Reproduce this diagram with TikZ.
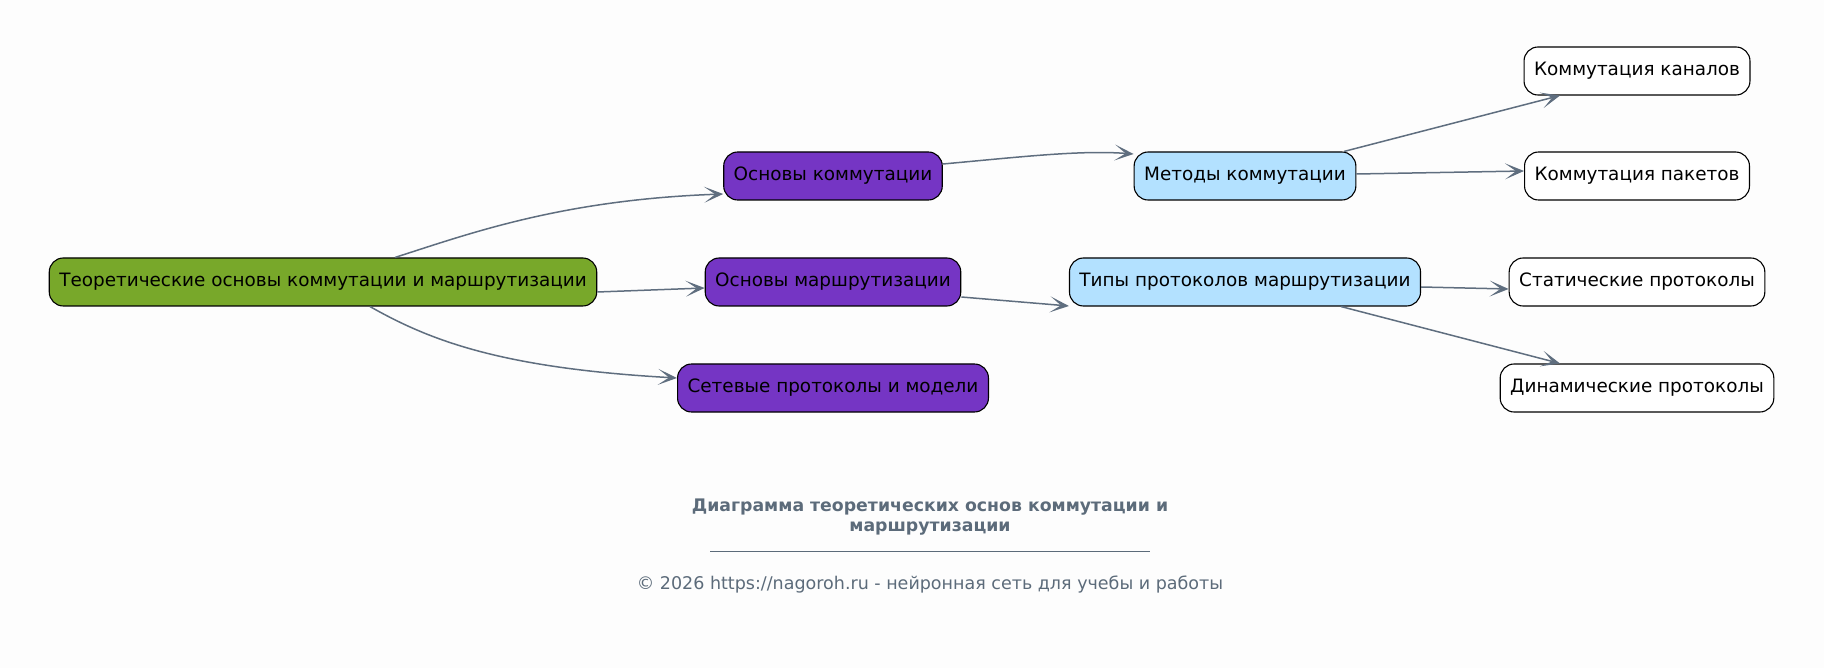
\documentclass[tikz,border=0pt]{standalone}
\usepackage{fontspec}
\setmainfont{DejaVu Sans}
\usetikzlibrary{arrows.meta,calc}
\definecolor{bg}{HTML}{FDFDFD}
\definecolor{rootc}{HTML}{78A82A}
\definecolor{midc}{HTML}{7535C4}
\definecolor{bluec}{HTML}{B3E1FF}
\definecolor{edgec}{HTML}{5F6E7F}
\definecolor{titlec}{HTML}{5C6B7A}
\tikzset{
  box/.style={draw=black, line width=1.1pt, rounded corners=14pt, minimum height=48pt, inner xsep=10pt, inner ysep=0pt, font=\fontsize{18.4}{22}\selectfont, text=black},
  rootbox/.style={box, fill=rootc},
  midbox/.style={box, fill=midc},
  bluebox/.style={box, fill=bluec},
  leafbox/.style={box, fill=white},
  conn/.style={draw=edgec, line width=1.5pt, -{Stealth[length=19pt,width=16pt,inset=11pt,line width=0pt]}},
}
\begin{document}
\begin{tikzpicture}[x=1pt,y=-1pt]
\fill[bg] (0,0) rectangle (1824,668);
\useasboundingbox (0,0) rectangle (1824,668);

\node[rootbox] (root) at (323,282) {Теоретические основы коммутации и маршрутизации};
\node[midbox] (osk) at (833,176) {Основы коммутации};
\node[midbox] (osm) at (833,282) {Основы маршрутизации};
\node[midbox] (snet) at (833,388) {Сетевые протоколы и модели};
\node[bluebox] (met) at (1245,176) {Методы коммутации};
\node[bluebox] (typ) at (1245,282) {Типы протоколов маршрутизации};
\node[leafbox] (kk) at (1637,71) {Коммутация каналов};
\node[leafbox] (kp) at (1637,176) {Коммутация пакетов};
\node[leafbox] (st) at (1637,282) {Статические протоколы};
\node[leafbox] (dy) at (1637,388) {Динамические протоколы};

\draw[conn] ($(root.north)+(72,0)$) .. controls ($(root.north)+(147,-24)$) and ($(osk.west)+(-162,24)$) .. ($(osk.west)+(0,18)$);
\draw[conn] ($(root.east)+(0,10)$) -- ($(osm.west)+(0,6)$);
\draw[conn] ($(root.south)+(47,0)$) .. controls ($(root.south)+(107,34)$) and ($(snet.west)+(-176,-20)$) .. ($(snet.west)+(0,-10)$);
\draw[conn] ($(osk.east)+(0,-12)$) .. controls ($(osk.east)+(77,-19)$) and ($(met.west)+(-53,-26)$) .. ($(met.west)+(0,-22)$);
\draw[conn] ($(osm.east)+(0,15)$) -- ($(typ.west)+(0,24)$);
\draw[conn] ($(met.north)+(99,0)$) -- ($(kk.south)+(-77,0)$);
\draw[conn] ($(met.east)+(0,-2)$) -- ($(kp.west)+(0,-5)$);
\draw[conn] ($(typ.east)+(0,5)$) -- ($(st.west)+(0,7)$);
\draw[conn] ($(typ.south)+(96,0)$) -- ($(dy.north)+(-77,0)$);

\node[font=\bfseries\fontsize{17.3}{20}\selectfont, text=titlec, align=center] (title) at (930,517) {Диаграмма теоретических основ коммутации и\\маршрутизации};
\coordinate (la) at (710,551);
\coordinate (lb) at (1150,551);
\draw[titlec, line width=0.9pt] (la) -- (lb);
\node[font=\fontsize{17.5}{20}\selectfont, text=titlec] (copy) at (930,585) {© 2026 https://nagoroh.ru - нейронная сеть для учебы и работы};
\end{tikzpicture}
\end{document}
